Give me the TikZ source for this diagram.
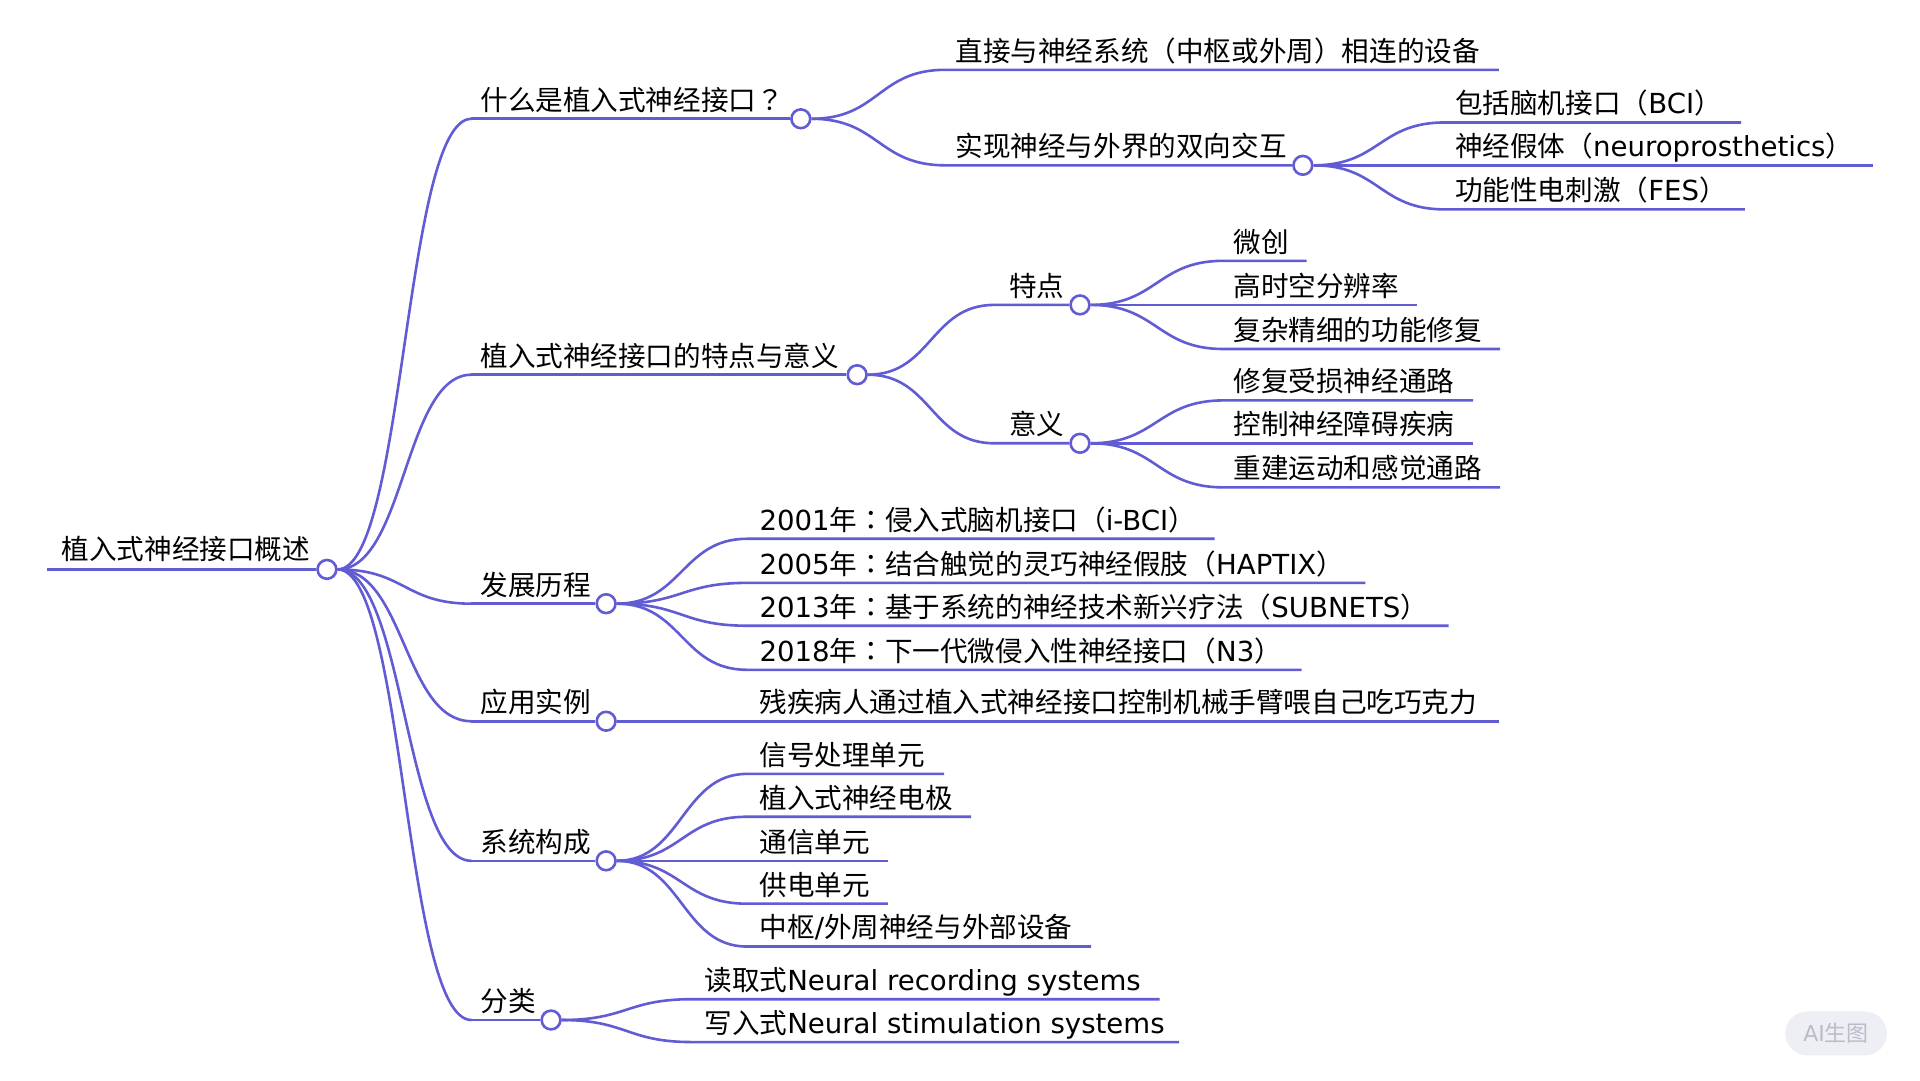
\documentclass[tikz,border=0pt]{standalone}
\usepackage{fontspec}
\setmainfont{DejaVu Sans}
\newfontfamily\cjk{Noto Sans CJK SC}
\newfontfamily\cjktc{Noto Sans CJK TC}
\newcommand\C[1]{{\cjk #1}}
\newcommand\Punc[1]{{\cjktc #1}}
\definecolor{mm}{RGB}{98,92,212}
\definecolor{wmfill}{RGB}{238,239,245}
\definecolor{wmtext}{RGB}{186,188,202}
\begin{document}
\begin{tikzpicture}[x=0.6123pt,y=-0.6123pt,
  ln/.style={draw=mm,line width=1.3pt},
  rootln/.style={draw=mm,line width=1.9pt},
  dot/.style={circle,draw=mm,fill=white,line width=1.3pt,minimum size=9.4pt,inner sep=0pt},
  txt/.style={anchor=base west,inner sep=0pt,font=\fontsize{13.8}{16}\selectfont},
  wm/.style={rounded corners=11pt,fill=wmfill,draw=none}]
\useasboundingbox (0,0) rectangle (1568,882);
\fill[white] (0,0) rectangle (1568,882);

% ---------- root ----------
\node[txt] (t0) at (50,457) {\C{植入式神经接口概述}};
\coordinate (s0) at (38,465);
\node[dot] (c0) at (267,465) {};
\draw[rootln] (s0) -- (c0.west);

% ---------- level 1 ----------
\node[txt] (tA) at (392,90) {\C{什么是植入式神经接口}\Punc{？}};
\coordinate (sA) at (385,97);
\node[dot] (cA) at (654,97) {};
\node[txt] (tB) at (392,299) {\C{植入式神经接口的特点与意义}};
\coordinate (sB) at (385,306);
\node[dot] (cB) at (700,306) {};
\node[txt] (tC) at (392,486) {\C{发展历程}};
\coordinate (sC) at (385,493);
\node[dot] (cC) at (495,493) {};
\node[txt] (tD) at (392,582) {\C{应用实例}};
\coordinate (sD) at (385,589);
\node[dot] (cD) at (495,589) {};
\node[txt] (tE) at (392,696) {\C{系统构成}};
\coordinate (sE) at (385,703);
\node[dot] (cE) at (495,703) {};
\node[txt] (tF) at (392,826) {\C{分类}};
\coordinate (sF) at (385,833);
\node[dot] (cF) at (450,833) {};
\foreach \n in {A,B,C,D,E,F}{
  \draw[ln] (c0.east) .. controls +(55,0) and +(-55,0) .. (s\n);
  \draw[ln] (s\n) -- (c\n.west);
}

% ---------- A children ----------
\node[txt] (tA1) at (780,50) {\C{直接与神经系统（中枢或外周）相连的设备}};
\coordinate (sA1) at (772,57); \coordinate (eA1) at (1224,57);
\node[txt] (tA2) at (780,128) {\C{实现神经与外界的双向交互}};
\coordinate (sA2) at (772,135);
\node[dot] (cA2) at (1064,135) {};
\draw[ln] (cA.east) .. controls +(55,0) and +(-55,0) .. (sA1) -- (eA1);
\draw[ln] (cA.east) .. controls +(55,0) and +(-55,0) .. (sA2) -- (cA2.west);

\node[txt] (tA2a) at (1188,93) {\C{包括脑机接口（}BCI\C{）}};
\coordinate (sA2a) at (1180,100); \coordinate (eA2a) at (1422,100);
\node[txt] (tA2b) at (1188,128) {\C{神经假体（}neuroprosthetics\C{）}};
\coordinate (sA2b) at (1180,135); \coordinate (eA2b) at (1530,135);
\node[txt] (tA2c) at (1188,164) {\C{功能性电刺激（}FES\C{）}};
\coordinate (sA2c) at (1180,171); \coordinate (eA2c) at (1425,171);
\foreach \n in {a,b,c}{
  \draw[ln] (cA2.east) .. controls +(54,0) and +(-54,0) .. (sA2\n) -- (eA2\n);
}

% ---------- B children ----------
\node[txt] (tB1) at (824,242) {\C{特点}};
\coordinate (sB1) at (812,249);
\node[dot] (cB1) at (882,249) {};
\node[txt] (tB2) at (824,355) {\C{意义}};
\coordinate (sB2) at (812,362);
\node[dot] (cB2) at (882,362) {};
\foreach \n in {1,2}{
  \draw[ln] (cB.east) .. controls +(52,0) and +(-52,0) .. (sB\n) -- (cB\n.west);
}
\node[txt] (tB1a) at (1007,206) {\C{微创}};
\coordinate (sB1a) at (999,213); \coordinate (eB1a) at (1067,213);
\node[txt] (tB1b) at (1007,242) {\C{高时空分辨率}};
\coordinate (sB1b) at (999,249); \coordinate (eB1b) at (1157,249);
\node[txt] (tB1c) at (1007,278) {\C{复杂精细的功能修复}};
\coordinate (sB1c) at (999,285); \coordinate (eB1c) at (1225,285);
\node[txt] (tB2a) at (1007,320) {\C{修复受损神经通路}};
\coordinate (sB2a) at (999,327); \coordinate (eB2a) at (1203,327);
\node[txt] (tB2b) at (1007,355) {\C{控制神经障碍疾病}};
\coordinate (sB2b) at (999,362); \coordinate (eB2b) at (1203,362);
\node[txt] (tB2c) at (1007,391) {\C{重建运动和感觉通路}};
\coordinate (sB2c) at (999,398); \coordinate (eB2c) at (1225,398);
\foreach \m in {1,2}{
  \foreach \n in {a,b,c}{
    \draw[ln] (cB\m.east) .. controls +(54,0) and +(-54,0) .. (sB\m\n) -- (eB\m\n);
  }
}

% ---------- C children ----------
\node[txt] (tC1) at (620,433) {2001\C{年}\Punc{：}\C{侵入式脑机接口（}i-BCI\C{）}};
\coordinate (sC1) at (610,440); \coordinate (eC1) at (992,440);
\node[txt] (tC2) at (620,469) {2005\C{年}\Punc{：}\C{结合触觉的灵巧神经假肢（}HAPTIX\C{）}};
\coordinate (sC2) at (610,476); \coordinate (eC2) at (1115,476);
\node[txt] (tC3) at (620,504) {2013\C{年}\Punc{：}\C{基于系统的神经技术新兴疗法（}SUBNETS\C{）}};
\coordinate (sC3) at (610,511); \coordinate (eC3) at (1183,511);
\node[txt] (tC4) at (620,540) {2018\C{年}\Punc{：}\C{下一代微侵入性神经接口（}N3\C{）}};
\coordinate (sC4) at (610,547); \coordinate (eC4) at (1063,547);
\foreach \n in {1,2,3,4}{
  \draw[ln] (cC.east) .. controls +(53,0) and +(-53,0) .. (sC\n) -- (eC\n);
}

% ---------- D child ----------
\node[txt] (tD1) at (620,582) {\C{残疾病人通过植入式神经接口控制机械手臂喂自己吃巧克力}};
\coordinate (eD1) at (1224,589);
\draw[ln] (cD.east) -- (eD1);

% ---------- E children ----------
\node[txt] (tE1) at (620,625) {\C{信号处理单元}};
\coordinate (sE1) at (610,632); \coordinate (eE1) at (771,632);
\node[txt] (tE2) at (620,660) {\C{植入式神经电极}};
\coordinate (sE2) at (610,667); \coordinate (eE2) at (793,667);
\node[txt] (tE3) at (620,696) {\C{通信单元}};
\coordinate (sE3) at (610,703); \coordinate (eE3) at (725,703);
\node[txt] (tE4) at (620,731) {\C{供电单元}};
\coordinate (sE4) at (610,738); \coordinate (eE4) at (725,738);
\node[txt] (tE5) at (620,766) {\C{中枢}/\C{外周神经与外部设备}};
\coordinate (sE5) at (610,773); \coordinate (eE5) at (891,773);
\foreach \n in {1,2,3,4,5}{
  \draw[ln] (cE.east) .. controls +(53,0) and +(-53,0) .. (sE\n) -- (eE\n);
}

% ---------- F children ----------
\node[txt] (tF1) at (575,809) {\C{读取式}Neural recording systems};
\coordinate (sF1) at (565,816); \coordinate (eF1) at (947,816);
\node[txt] (tF2) at (575,844) {\C{写入式}Neural stimulation systems};
\coordinate (sF2) at (565,851); \coordinate (eF2) at (963,851);
\foreach \n in {1,2}{
  \draw[ln] (cF.east) .. controls +(53,0) and +(-53,0) .. (sF\n) -- (eF\n);
}

% ---------- watermark ----------
\node[wm,minimum width=50.8pt,minimum height=22pt] (wmbox) at (1499.5,844) {};
\node[text=wmtext,font=\fontsize{11}{13}\selectfont,inner sep=0pt] (wmlabel) at (wmbox.center) {AI\C{生图}};
\end{tikzpicture}
\end{document}
